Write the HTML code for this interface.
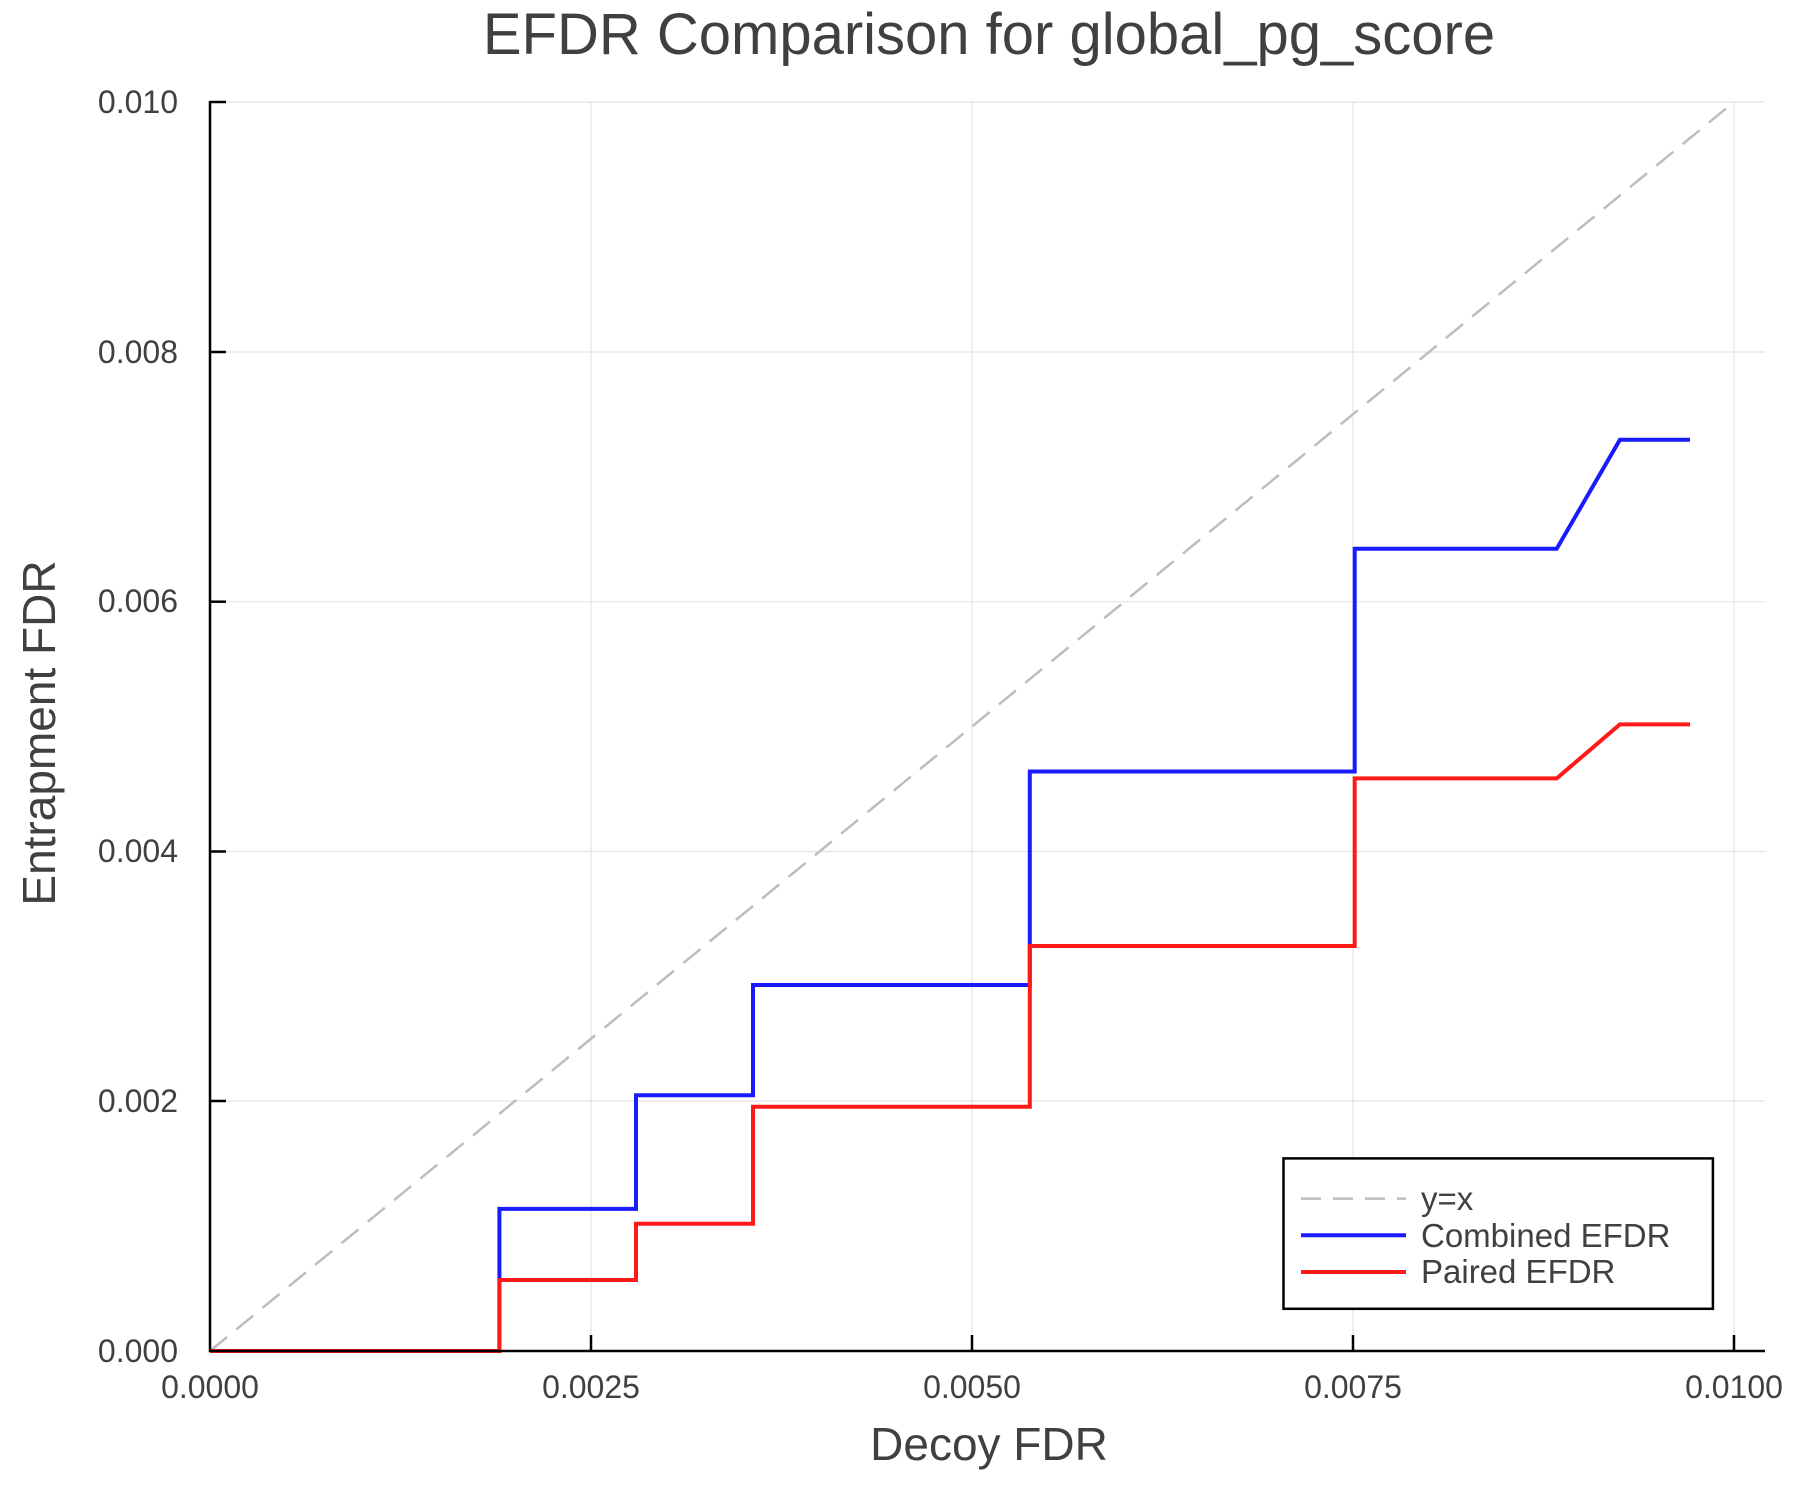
<!DOCTYPE html>
<html><head><meta charset="utf-8"><style>
html,body{margin:0;padding:0;background:#fff;}
svg{display:block;font-family:"Liberation Sans",sans-serif;}
</style></head><body>
<svg width="1800" height="1500" viewBox="0 0 1800 1500" xmlns="http://www.w3.org/2000/svg">
<rect width="1800" height="1500" fill="#fff"/>
<g stroke="#e4e4e4" stroke-width="1.2">
<line x1="591" y1="102" x2="591" y2="1351"/>
<line x1="972" y1="102" x2="972" y2="1351"/>
<line x1="1353" y1="102" x2="1353" y2="1351"/>
<line x1="1734" y1="102" x2="1734" y2="1351"/>
<line x1="210" y1="102" x2="1765" y2="102"/>
<line x1="210" y1="352" x2="1765" y2="352"/>
<line x1="210" y1="601.7" x2="1765" y2="601.7"/>
<line x1="210" y1="851.5" x2="1765" y2="851.5"/>
<line x1="210" y1="1101" x2="1765" y2="1101"/>
</g>
<line x1="210" y1="1351" x2="1734" y2="102" stroke="#bdbdbd" stroke-width="2.5" stroke-dasharray="22,12"/>
<polyline fill="none" stroke="#1a1aff" stroke-width="4" points="210,1351 499.4,1351 499.4,1208.9 636,1208.9 636,1095.3 753,1095.3 753,985 1029.8,985 1029.8,771.5 1354.7,771.5 1354.7,548.8 1556.7,548.8 1619.9,439.7 1690,439.7"/>
<polyline fill="none" stroke="#ff1a1a" stroke-width="4" points="210,1351 499.4,1351 499.4,1280 636,1280 636,1223.8 753,1223.8 753,1106.7 1029.8,1106.7 1029.8,946 1354.7,946 1354.7,778.4 1556.7,778.4 1619.9,724.4 1690,724.4"/>
<g stroke="#000" stroke-width="2.5">
<line x1="210" y1="101" x2="210" y2="1352"/>
<line x1="209" y1="1351" x2="1765" y2="1351"/>
<line x1="591" y1="1351" x2="591" y2="1335"/>
<line x1="972" y1="1351" x2="972" y2="1335"/>
<line x1="1353" y1="1351" x2="1353" y2="1335"/>
<line x1="1734" y1="1351" x2="1734" y2="1335"/>
<line x1="210" y1="102" x2="226" y2="102"/>
<line x1="210" y1="352" x2="226" y2="352"/>
<line x1="210" y1="601.7" x2="226" y2="601.7"/>
<line x1="210" y1="851.5" x2="226" y2="851.5"/>
<line x1="210" y1="1101" x2="226" y2="1101"/>
</g>
<g fill="#404040" font-size="32" text-anchor="middle">
<text x="210" y="1398">0.0000</text>
<text x="591" y="1398">0.0025</text>
<text x="972" y="1398">0.0050</text>
<text x="1353" y="1398">0.0075</text>
<text x="1734" y="1398">0.0100</text>
</g>
<g fill="#404040" font-size="32" text-anchor="end">
<text x="178" y="1362">0.000</text>
<text x="178" y="1112">0.002</text>
<text x="178" y="862">0.004</text>
<text x="178" y="612">0.006</text>
<text x="178" y="363">0.008</text>
<text x="178" y="113">0.010</text>
</g>
<text x="989" y="54" fill="#404040" font-size="58" text-anchor="middle">EFDR Comparison for global_pg_score</text>
<text x="989" y="1460" fill="#404040" font-size="46" text-anchor="middle">Decoy FDR</text>
<text transform="translate(55,733) rotate(-90)" fill="#404040" font-size="46" text-anchor="middle">Entrapment FDR</text>
<rect x="1283.5" y="1158.4" width="429.4" height="150.4" fill="#fff" stroke="#000" stroke-width="2.5"/>
<line x1="1301" y1="1198.6" x2="1406" y2="1198.6" stroke="#bdbdbd" stroke-width="2.5" stroke-dasharray="20,12"/>
<line x1="1301" y1="1235.3" x2="1406" y2="1235.3" stroke="#1a1aff" stroke-width="4"/>
<line x1="1301" y1="1272" x2="1406" y2="1272" stroke="#ff1a1a" stroke-width="4"/>
<g fill="#404040" font-size="33">
<text x="1421" y="1210">y=x</text>
<text x="1421" y="1247">Combined EFDR</text>
<text x="1421" y="1283">Paired EFDR</text>
</g>
</svg>
</body></html>
